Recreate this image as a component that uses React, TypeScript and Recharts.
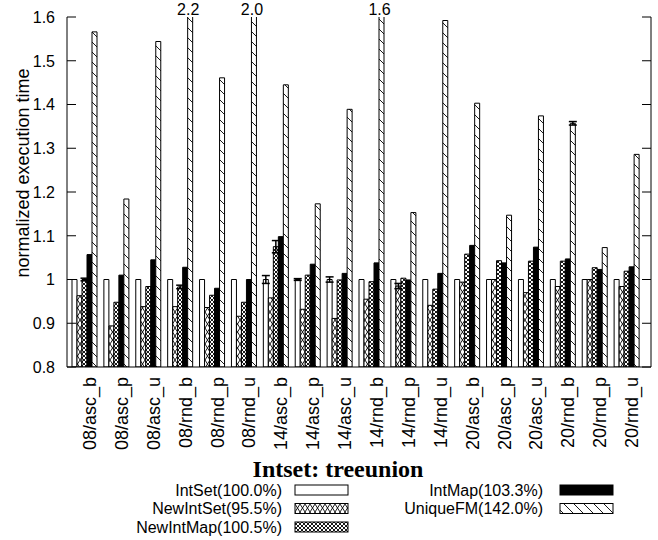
import React from 'react'
import { Bar, BarChart, ErrorBar, LabelList, XAxis, YAxis } from 'recharts'

const CATEGORIES = [
  '08/asc_b', '08/asc_p', '08/asc_u', '08/rnd_b', '08/rnd_p', '08/rnd_u',
  '14/asc_b', '14/asc_p', '14/asc_u', '14/rnd_b', '14/rnd_p', '14/rnd_u',
  '20/asc_b', '20/asc_p', '20/asc_u', '20/rnd_b', '20/rnd_p', '20/rnd_u',
]

const INT_SET = [1, 1, 1, 1, 1, 1, 1, 1, 1, 1, 1, 1, 1, 1, 1, 1, 1, 1]
const NEW_INT_SET = [0.963, 0.894, 0.938, 0.938, 0.936, 0.916, 0.958, 0.932, 0.911, 0.955, 0.985, 0.941, 0.994, 1.0, 0.97, 0.984, 1.0, 0.984]
const NEW_INT_MAP = [1.0, 0.948, 0.984, 0.983, 0.964, 0.948, 1.075, 1.01, 0.999, 0.995, 1.003, 0.978, 1.058, 1.043, 1.042, 1.042, 1.027, 1.019]
const INT_MAP = [1.057, 1.01, 1.045, 1.028, 0.98, 1.0, 1.098, 1.035, 1.014, 1.038, 0.999, 1.014, 1.078, 1.038, 1.074, 1.047, 1.023, 1.029]
const UNIQUE_FM = [1.566, 1.184, 1.544, 2.2, 1.461, 2.0, 1.445, 1.173, 1.389, 1.62, 1.153, 1.592, 1.403, 1.147, 1.374, 1.357, 1.073, 1.286]

// half-width of the error range
const INT_SET_ERR = [0, 0, 0, 0, 0, 0, 0.009, 0.002, 0.006, 0, 0, 0, 0, 0, 0, 0, 0, 0]
const NEW_INT_SET_ERR = [0, 0, 0, 0, 0, 0, 0, 0, 0, 0, 0.006, 0, 0, 0, 0, 0, 0, 0]
const NEW_INT_MAP_ERR = [0.003, 0, 0, 0.004, 0, 0, 0.014, 0, 0, 0, 0, 0, 0, 0, 0, 0, 0, 0]
const INT_MAP_ERR = [0, 0, 0, 0, 0, 0, 0, 0, 0, 0, 0, 0, 0, 0, 0, 0, 0, 0]
const UNIQUE_FM_ERR = [0, 0, 0, 0, 0, 0, 0, 0, 0, 0, 0, 0, 0, 0, 0, 0.004, 0, 0]

const Y_TICKS = [0.8, 0.9, 1, 1.1, 1.2, 1.3, 1.4, 1.5, 1.6]
const Y_MIN = 0.8
const Y_MAX = 1.6

const SERIES = [
  { key: 'intSet', label: 'IntSet(100.0%)', fill: '#fff' },
  { key: 'newIntSet', label: 'NewIntSet(95.5%)', fill: 'url(#hatchCross)' },
  { key: 'newIntMap', label: 'NewIntMap(100.5%)', fill: 'url(#hatchDense)' },
  { key: 'intMap', label: 'IntMap(103.3%)', fill: '#000' },
  { key: 'uniqueFM', label: 'UniqueFM(142.0%)', fill: 'url(#hatchDiag)' },
]

const data = CATEGORIES.map((name, i) => ({
  name,
  intSet: INT_SET[i],
  newIntSet: NEW_INT_SET[i],
  newIntMap: NEW_INT_MAP[i],
  intMap: INT_MAP[i],
  uniqueFM: UNIQUE_FM[i],
  intSetErr: INT_SET_ERR[i],
  newIntSetErr: NEW_INT_SET_ERR[i],
  newIntMapErr: NEW_INT_MAP_ERR[i],
  intMapErr: INT_MAP_ERR[i],
  uniqueFMErr: UNIQUE_FM_ERR[i],
}))

const W = 658
const H = 540
const PLOT_LEFT = 67
const PLOT_RIGHT = 651
const PLOT_TOP = 17
const PLOT_BOTTOM = 367
const TICK_LEN = 9
const FONT = '"Liberation Sans", Arial, Helvetica, sans-serif'

const LeftTick = ({ y, payload }) => (
  <g>
    <text x={PLOT_LEFT - 12} y={y} dy="0.36em" textAnchor="end" fontSize={16} fontFamily={FONT} fill="#000">
      {String(payload.value)}
    </text>
    <line x1={PLOT_LEFT} x2={PLOT_LEFT + TICK_LEN} y1={y} y2={y} stroke="#000" />
  </g>
)

const RightTick = ({ y }) => (
  <line x1={PLOT_RIGHT - TICK_LEN} x2={PLOT_RIGHT} y1={y} y2={y} stroke="#000" />
)

const TopTick = ({ x }) => (
  <line x1={x - 8} x2={x - 8} y1={PLOT_TOP} y2={PLOT_TOP + TICK_LEN} stroke="#000" />
)

const BottomTick = ({ x, payload }) => {
  const tx = x + 5
  const ty = PLOT_BOTTOM + 10
  return (
    <text
      x={tx}
      y={ty}
      transform={`rotate(-90, ${tx}, ${ty})`}
      textAnchor="end"
      dominantBaseline="central"
      fontSize={18}
      fontFamily={FONT}
      fill="#000"
    >
      {payload.value}
    </text>
  )
}

const OverflowLabel = ({ x, width, value }) => {
  if (value <= Y_MAX) return null
  return (
    <text x={x + width / 2 - 2} y={PLOT_TOP - 2} textAnchor="middle" fontSize={16} fontFamily={FONT} fill="#000">
      {Number(value).toFixed(1)}
    </text>
  )
}

const AxisTitle = () => (
  <text
    x={23}
    y={173}
    transform="rotate(-90, 23, 173)"
    textAnchor="middle"
    dominantBaseline="central"
    fontSize={18}
    fontFamily={FONT}
    fill="#000"
  >
    normalized execution time
  </text>
)

const Patterns = () => (
  <svg width={0} height={0} style={{ position: 'absolute' }}>
    <defs>
      <pattern id="hatchCross" width={5} height={8} patternUnits="userSpaceOnUse">
        <rect width={5} height={8} fill="#fff" />
        <path d="M0,0 L5,8 M5,0 L0,8" stroke="#000" strokeWidth={0.9} />
      </pattern>
      <pattern id="hatchDense" width={4} height={4} patternUnits="userSpaceOnUse">
        <rect width={4} height={4} fill="#fff" />
        <path d="M0,0 L4,4 M4,0 L0,4" stroke="#000" strokeWidth={0.9} />
      </pattern>
      <pattern id="hatchDiag" width={10} height={10} patternUnits="userSpaceOnUse">
        <rect width={10} height={10} fill="#fff" />
        <path d="M0,0 L10,10 M-2,8 L2,12 M8,-2 L12,2" stroke="#000" strokeWidth={0.9} />
      </pattern>
    </defs>
  </svg>
)

const LEGEND_ROWS = [490, 508.5, 527]

const LegendBlock = () => {
  const cols = [
    { textEnd: 282, swatch: 295 },
    { textEnd: 543, swatch: 560 },
  ]
  return (
    <svg width={W} height={H} style={{ position: 'absolute', left: 0, top: 0, pointerEvents: 'none' }}>
      <text
        x={338}
        y={477}
        textAnchor="middle"
        fontSize={24}
        fontWeight="bold"
        fontFamily='"Liberation Serif", "Times New Roman", serif'
        fill="#000"
      >
        Intset: treeunion
      </text>
      {SERIES.map((s, i) => {
        const col = cols[i < 3 ? 0 : 1]
        const y = LEGEND_ROWS[i < 3 ? i : i - 3]
        return (
          <g key={s.key}>
            <text x={col.textEnd} y={y} dy="0.36em" textAnchor="end" fontSize={16} fontFamily={FONT} fill="#000">
              {s.label}
            </text>
            <rect x={col.swatch} y={y - 5} width={53} height={10} fill={s.fill} stroke="#000" strokeWidth={1} />
          </g>
        )
      })}
    </svg>
  )
}

export default function App() {
  return (
    <div style={{ position: 'absolute', left: 0, top: 0, width: W, height: H, background: '#fff' }}>
      <Patterns />
      <BarChart
        width={W}
        height={H}
        data={data}
        margin={{ top: PLOT_TOP, right: 0, bottom: 0, left: 0 }}
        barSize={5}
        barGap={0}
      >
        <XAxis
          xAxisId="bottom"
          dataKey="name"
          orientation="bottom"
          height={H - PLOT_BOTTOM}
          interval={0}
          padding={{ left: 2, right: 8 }}
          axisLine={{ stroke: '#000' }}
          tickLine={false}
          tick={<BottomTick />}
        />
        <XAxis
          xAxisId="top"
          dataKey="name"
          orientation="top"
          height={0}
          interval={0}
          padding={{ left: 2, right: 8 }}
          axisLine={{ stroke: '#000' }}
          tickLine={false}
          tick={<TopTick />}
        />
        <YAxis
          yAxisId="left"
          width={PLOT_LEFT}
          domain={[Y_MIN, Y_MAX]}
          ticks={Y_TICKS}
          allowDataOverflow
          axisLine={{ stroke: '#000' }}
          tickLine={false}
          tick={<LeftTick />}
          label={<AxisTitle />}
        />
        <YAxis
          yAxisId="right"
          orientation="right"
          width={W - PLOT_RIGHT}
          domain={[Y_MIN, Y_MAX]}
          ticks={Y_TICKS}
          allowDataOverflow
          axisLine={{ stroke: '#000' }}
          tickLine={false}
          tick={<RightTick />}
        />
        {SERIES.map((s) => (
          <Bar
            key={s.key}
            dataKey={s.key}
            xAxisId="bottom"
            yAxisId="left"
            fill={s.fill}
            stroke="#000"
            strokeWidth={1}
            isAnimationActive={false}
          >
            <ErrorBar dataKey={`${s.key}Err`} width={4} stroke="#000" strokeWidth={1.5} direction="y" />
            {s.key === 'uniqueFM' && <LabelList dataKey="uniqueFM" content={<OverflowLabel />} />}
          </Bar>
        ))}
      </BarChart>
      <LegendBlock />
    </div>
  )
}
